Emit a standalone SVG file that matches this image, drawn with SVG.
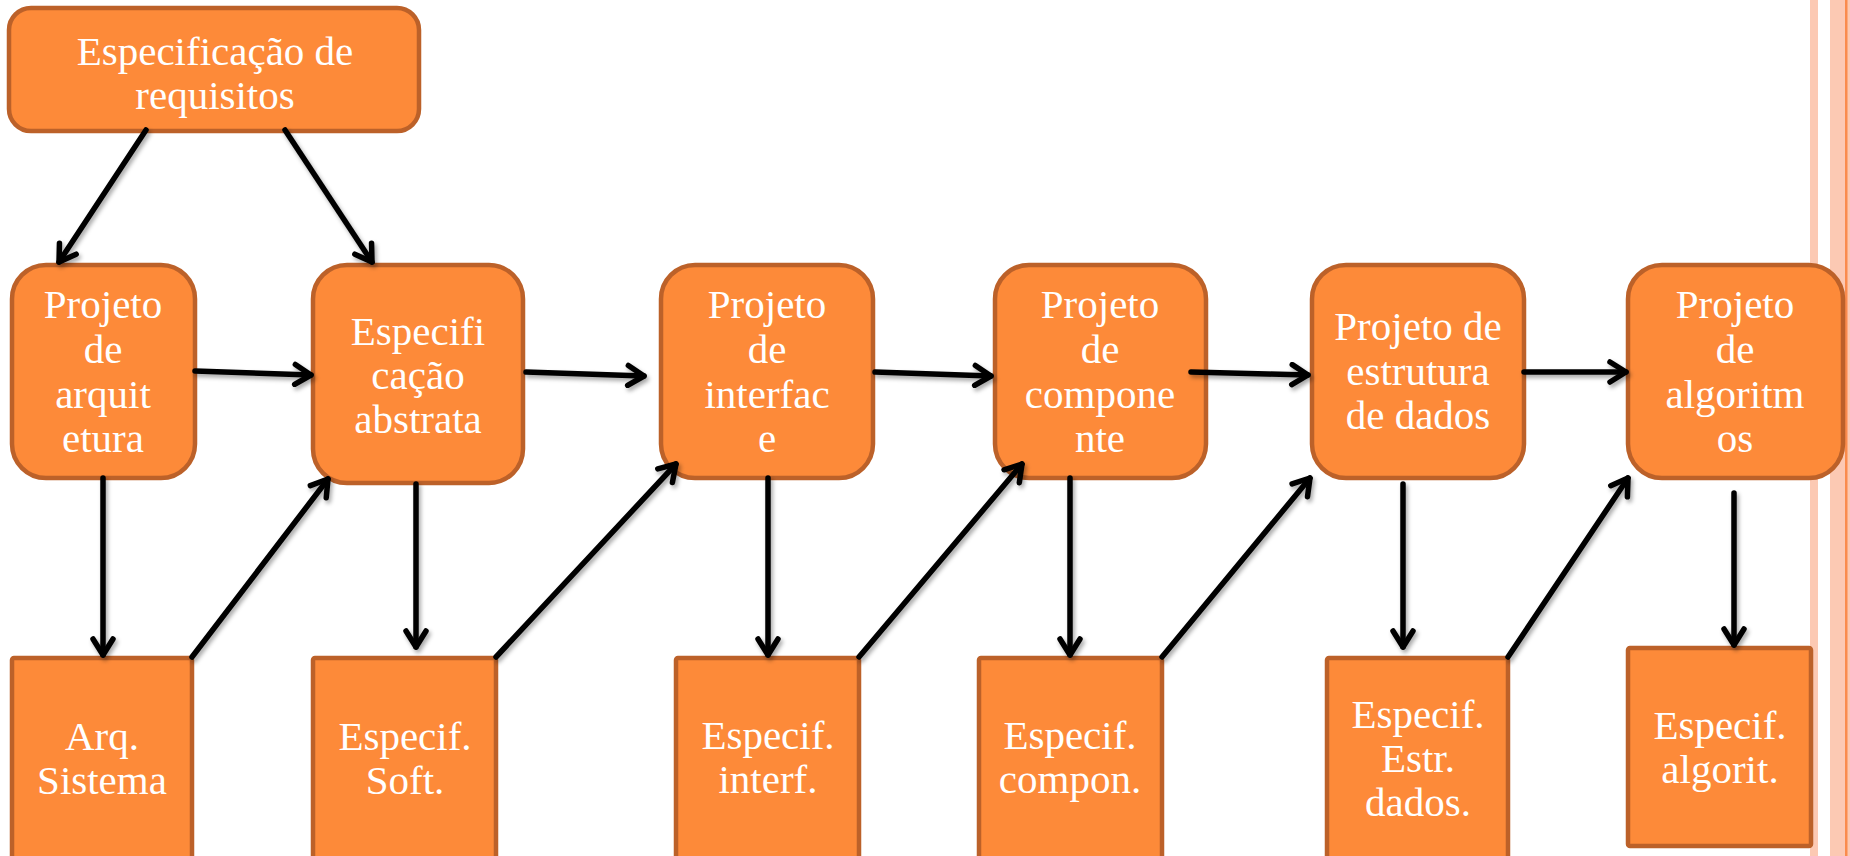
<svg xmlns="http://www.w3.org/2000/svg" width="1850" height="856" viewBox="0 0 1850 856">
<style>
.box{fill:#FD8A39;stroke:#BC6129;stroke-width:4.5}
.t{font-family:"Liberation Serif","Times New Roman",serif;font-size:41px;fill:#FFFFFF;text-anchor:middle}
.c{fill:none;stroke:#000;stroke-width:5.5;stroke-linecap:round}
</style>
<defs>
<marker id="ah" viewBox="0 0 26 26" refX="22" refY="13" markerWidth="26" markerHeight="26" markerUnits="userSpaceOnUse" orient="auto">
<path d="M6,3 L22,13 L6,23" fill="none" stroke="#000" stroke-width="5.5" stroke-linecap="round" stroke-linejoin="round"/>
</marker>
<filter id="sh" x="-20%" y="-20%" width="140%" height="140%">
<feDropShadow dx="2" dy="3" stdDeviation="2" flood-color="#000" flood-opacity="0.35"/>
</filter>
</defs>
<rect width="1850" height="856" fill="#FFFFFF"/>
<g id="border">
<rect x="1810" y="0" width="8" height="856" fill="#FCC9B3"/>
<rect x="1830" y="0" width="20" height="856" fill="#FCC9B3"/>
<rect x="1845" y="0" width="2.5" height="856" fill="#FA8C4C"/>
</g>
<g id="n-req"><rect class="box" x="9" y="8" width="410" height="123" rx="22"/>
<text class="t" x="215" y="65">Especificação de</text><text class="t" x="215" y="109">requisitos</text></g>
<g id="n-arq"><rect class="box" x="12" y="265" width="183" height="213" rx="34"/>
<text class="t" x="103" y="318">Projeto</text><text class="t" x="103" y="363">de</text><text class="t" x="103" y="408">arquit</text><text class="t" x="103" y="452">etura</text></g>
<g id="n-abs"><rect class="box" x="313" y="265" width="210" height="218" rx="34"/>
<text class="t" x="418" y="345">Especifi</text><text class="t" x="418" y="389">cação</text><text class="t" x="418" y="433">abstrata</text></g>
<g id="n-int"><rect class="box" x="661" y="265" width="212" height="213" rx="34"/>
<text class="t" x="767" y="318">Projeto</text><text class="t" x="767" y="363">de</text><text class="t" x="767" y="408">interfac</text><text class="t" x="767" y="452">e</text></g>
<g id="n-comp"><rect class="box" x="995" y="265" width="211" height="213" rx="34"/>
<text class="t" x="1100" y="318">Projeto</text><text class="t" x="1100" y="363">de</text><text class="t" x="1100" y="408">compone</text><text class="t" x="1100" y="452">nte</text></g>
<g id="n-est"><rect class="box" x="1312" y="265" width="212" height="213" rx="34"/>
<text class="t" x="1418" y="340">Projeto de</text><text class="t" x="1418" y="385">estrutura</text><text class="t" x="1418" y="429">de dados</text></g>
<g id="n-alg"><rect class="box" x="1628" y="265" width="215" height="213" rx="34"/>
<text class="t" x="1735" y="318">Projeto</text><text class="t" x="1735" y="363">de</text><text class="t" x="1735" y="408">algoritm</text><text class="t" x="1735" y="452">os</text></g>
<g id="s-arq"><rect class="box" x="12" y="658" width="180" height="215" rx="2"/>
<text class="t" x="102" y="750">Arq.</text><text class="t" x="102" y="794">Sistema</text></g>
<g id="s-soft"><rect class="box" x="313" y="658" width="183" height="215" rx="2"/>
<text class="t" x="405" y="750">Especif.</text><text class="t" x="405" y="794">Soft.</text></g>
<g id="s-int"><rect class="box" x="676" y="658" width="183" height="215" rx="2"/>
<text class="t" x="768" y="749">Especif.</text><text class="t" x="768" y="793">interf.</text></g>
<g id="s-comp"><rect class="box" x="979" y="658" width="183" height="215" rx="2"/>
<text class="t" x="1070" y="749">Especif.</text><text class="t" x="1070" y="793">compon.</text></g>
<g id="s-est"><rect class="box" x="1327" y="658" width="181" height="215" rx="2"/>
<text class="t" x="1418" y="728">Especif.</text><text class="t" x="1418" y="772">Estr.</text><text class="t" x="1418" y="816">dados.</text></g>
<g id="s-alg"><rect class="box" x="1628" y="648" width="183" height="198" rx="2"/>
<text class="t" x="1720" y="739">Especif.</text><text class="t" x="1720" y="783">algorit.</text></g>
<g id="connectors" filter="url(#sh)">
<path class="c" marker-end="url(#ah)" d="M146,130 L59,262"/>
<path class="c" marker-end="url(#ah)" d="M285,130 L372,262"/>
<path class="c" marker-end="url(#ah)" d="M195,371 L311,375"/>
<path class="c" marker-end="url(#ah)" d="M526,372 L644,376"/>
<path class="c" marker-end="url(#ah)" d="M875,372 L991,376"/>
<path class="c" marker-end="url(#ah)" d="M1191,372 L1308,375"/>
<path class="c" marker-end="url(#ah)" d="M1524,372 L1626,372"/>
<path class="c" marker-end="url(#ah)" d="M103,478 L103,655"/>
<path class="c" marker-end="url(#ah)" d="M192,657 L328,479"/>
<path class="c" marker-end="url(#ah)" d="M416,484 L416,647"/>
<path class="c" marker-end="url(#ah)" d="M496,657 L676,464"/>
<path class="c" marker-end="url(#ah)" d="M768,478 L768,655"/>
<path class="c" marker-end="url(#ah)" d="M859,657 L1022,464"/>
<path class="c" marker-end="url(#ah)" d="M1070,478 L1070,655"/>
<path class="c" marker-end="url(#ah)" d="M1162,657 L1310,478"/>
<path class="c" marker-end="url(#ah)" d="M1403,484 L1403,647"/>
<path class="c" marker-end="url(#ah)" d="M1508,657 L1628,478"/>
<path class="c" marker-end="url(#ah)" d="M1734,493 L1734,645"/>
</g>
</svg>
